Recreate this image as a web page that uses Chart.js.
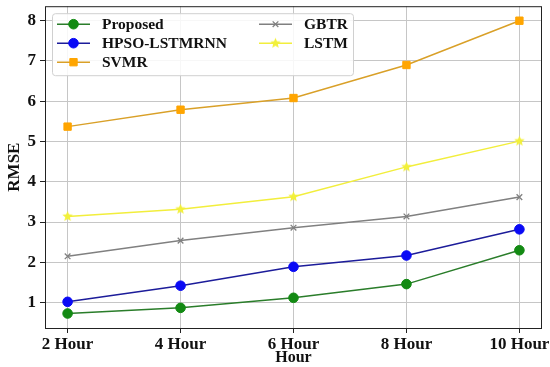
<!DOCTYPE html>
<html>
<head>
<meta charset="utf-8">
<script src="https://cdn.jsdelivr.net/npm/chart.js@4/dist/chart.umd.min.js"></script>
<style>
  html, body { margin: 0; padding: 0; background: #fff; }
  #wrap { width: 550px; height: 367px; }
</style>
</head>
<body>
<div id="wrap"><canvas id="rmseChart" width="550" height="367"></canvas></div>
<script>
// x categories and RMSE values
const hours = ['2 Hour', '4 Hour', '6 Hour', '8 Hour', '10 Hour'];
const proposed = [0.73, 0.87, 1.12, 1.46, 2.30];
const hpsoLstmRnn = [1.02, 1.42, 1.89, 2.17, 2.82];
const svmr = [5.37, 5.79, 6.08, 6.90, 8.00];
const gbtr = [2.15, 2.54, 2.86, 3.14, 3.62];
const lstm = [3.14, 3.32, 3.63, 4.37, 5.01];
const yTicks = [1, 2, 3, 4, 5, 6, 7, 8];

const FONT = "'Liberation Serif', 'Times New Roman', serif";

// filled star marker (matplotlib '*')
function makeStar(color, r) {
    const c = document.createElement('canvas');
    const s = Math.ceil(r * 2 + 2);
    c.width = s; c.height = s;
    const g = c.getContext('2d');
    g.beginPath();
    for (let i = 0; i < 10; i++) {
        const rad = i % 2 === 0 ? r : r * 0.45;
        const a = -Math.PI / 2 + i * Math.PI / 5;
        const px = s / 2 + rad * Math.cos(a);
        const py = s / 2 + rad * Math.sin(a);
        if (i === 0) g.moveTo(px, py); else g.lineTo(px, py);
    }
    g.closePath();
    g.fillStyle = color;
    g.fill();
    return c;
}
const starImg = makeStar('#f2f03a', 5.5);

function toPoints(arr) {
    return arr.map((v, i) => ({ x: i, y: v }));
}

function series(label, values, line, mark, style, radius) {
    return {
        label: label,
        data: toPoints(values),
        borderColor: line,
        backgroundColor: mark,
        pointBackgroundColor: mark,
        pointBorderColor: mark,
        pointStyle: style,
        pointRadius: radius,
        pointBorderWidth: style === 'crossRot' ? 1.3 : 1,
        borderWidth: 1.5,
        tension: 0,
        fill: false
    };
}

// plot frame around the chart area
const framePlugin = {
    id: 'frame',
    afterDraw(chart) {
        const a = chart.chartArea;
        const ctx = chart.ctx;
        ctx.save();
        ctx.strokeStyle = '#222';
        ctx.lineWidth = 1;
        ctx.strokeRect(a.left + 0.5, a.top + 0.5, a.right - a.left - 1, a.bottom - a.top);
        ctx.restore();
    }
};

// two-column legend filled column by column
const legendPlugin = {
    id: 'colLegend',
    afterDraw(chart) {
        const ctx = chart.ctx;
        const a = chart.chartArea;
        const boxX = a.left + 7, boxY = a.top + 7, boxW = 301, boxH = 62;
        ctx.save();
        ctx.fillStyle = 'rgba(255,255,255,0.85)';
        ctx.strokeStyle = '#d0d0d0';
        ctx.lineWidth = 1;
        ctx.beginPath();
        ctx.roundRect(boxX + 0.5, boxY + 0.5, boxW, boxH, 3);
        ctx.fill();
        ctx.stroke();

        const cols = [boxX + 5, boxX + 207];
        const rows = [boxY + 11, boxY + 30, boxY + 49];
        ctx.font = 'bold 15.5px ' + FONT;
        ctx.textBaseline = 'middle';
        chart.data.datasets.forEach((ds, i) => {
            const col = i < 3 ? 0 : 1;
            const row = i < 3 ? i : i - 3;
            const x = cols[col], y = rows[row];
            ctx.strokeStyle = ds.borderColor;
            ctx.lineWidth = ds.borderWidth;
            ctx.beginPath();
            ctx.moveTo(x, y);
            ctx.lineTo(x + 33, y);
            ctx.stroke();
            ctx.fillStyle = ds.pointBackgroundColor;
            ctx.strokeStyle = ds.pointBorderColor;
            ctx.lineWidth = ds.pointBorderWidth;
            Chart.helpers.drawPoint(ctx, {
                pointStyle: ds.pointStyle,
                radius: ds.pointRadius,
                rotation: 0,
                borderWidth: ds.pointBorderWidth
            }, x + 16.5, y);
            ctx.fillStyle = '#111';
            ctx.fillText(ds.label, x + 45, y + 1);
        });
        ctx.restore();
    }
};

const ctx = document.getElementById('rmseChart').getContext('2d');
const chart = new Chart(ctx, {
    type: 'line',
    data: {
        datasets: [
            series('Proposed', proposed, '#2a7d2a', '#138a13', 'circle', 4.8),
            series('HPSO-LSTMRNN', hpsoLstmRnn, '#1c1c9a', '#0a0af5', 'circle', 4.8),
            series('SVMR', svmr, '#d9a028', '#ffa500', 'rect', 5.2),
            series('GBTR', gbtr, '#808080', '#808080', 'crossRot', 4),
            series('LSTM', lstm, '#f2ee3c', '#f2ee3c', starImg, 5)
        ]
    },
    options: {
        responsive: false,
        animation: false,
        devicePixelRatio: 1,
        layout: { padding: { top: 0, right: 8, left: 0, bottom: 0 } },
        plugins: {
            legend: { display: false },
            tooltip: { enabled: false }
        },
        scales: {
            x: {
                type: 'linear',
                min: -0.2,
                max: 4.2,
                afterFit(scale) {
                    scale.height = 39;
                    scale.paddingLeft = 0;
                    scale.paddingRight = 0;
                },
                afterBuildTicks(scale) {
                    scale.ticks = hours.map((h, i) => ({ value: i }));
                },
                ticks: {
                    callback: (v) => hours[v],
                    color: '#111',
                    padding: 1,
                    maxRotation: 0,
                    font: { family: FONT, size: 17, weight: 'bold' }
                },
                grid: {
                    color: '#c6c6c6',
                    lineWidth: 1,
                    tickLength: 5,
                    tickColor: '#222'
                },
                border: { display: false },
                title: {
                    display: true,
                    text: 'Hour',
                    color: '#111',
                    padding: { top: 0, bottom: 0 },
                    font: { family: FONT, size: 16, weight: 'bold' }
                }
            },
            y: {
                min: 0.37,
                max: 8.36,
                afterFit(scale) {
                    scale.width = 45;
                    scale.paddingTop = 0;
                    scale.paddingBottom = 0;
                },
                afterBuildTicks(scale) {
                    scale.ticks = yTicks.map(v => ({ value: v }));
                },
                ticks: {
                    color: '#111',
                    padding: 4,
                    font: { family: FONT, size: 17, weight: 'bold' }
                },
                grid: {
                    color: '#c6c6c6',
                    lineWidth: 1,
                    tickLength: 5,
                    tickColor: '#222'
                },
                border: { display: false },
                title: {
                    display: true,
                    text: 'RMSE',
                    color: '#111',
                    padding: { top: 4, bottom: 0 },
                    font: { family: FONT, size: 17, weight: 'bold' }
                }
            }
        }
    },
    plugins: [framePlugin, legendPlugin]
});
</script>
</body>
</html>
